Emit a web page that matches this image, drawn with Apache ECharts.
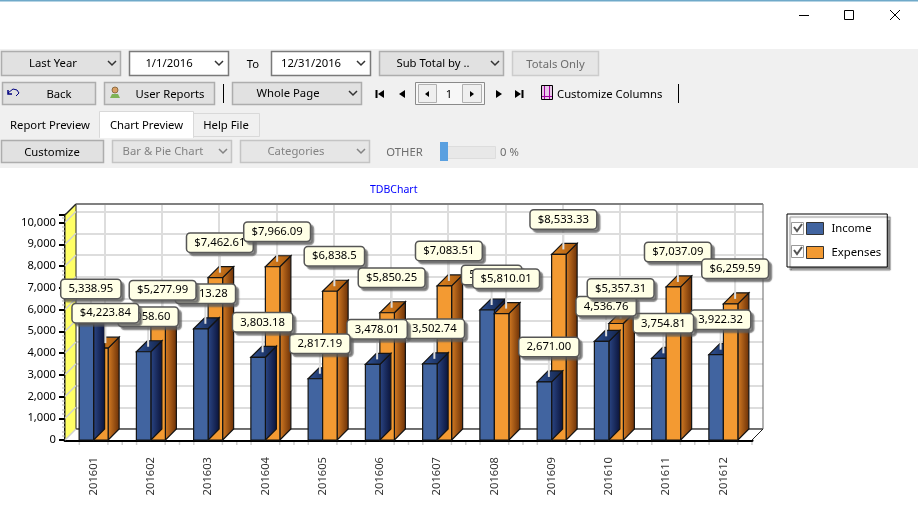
<!DOCTYPE html>
<html>
<head>
<meta charset="utf-8">
<style>html,body{margin:0;padding:0;background:#fff}#view{width:918px;height:512px}</style>
<script src="https://cdn.jsdelivr.net/npm/echarts@6/dist/echarts.min.js"></script>
</head>
<body>
<div id="view"></div>
<script>
var months = ["201601", "201602", "201603", "201604", "201605", "201606", "201607", "201608", "201609", "201610", "201611", "201612"];
var income = [5338.95, 4058.60, 5113.28, 3803.18, 2817.19, 3478.01, 3502.74, 5977.00, 2671.00, 4536.76, 3754.81, 3922.32];
var expenses = [4223.84, 5277.99, 7462.61, 7966.09, 6838.5, 5850.25, 7083.51, 5810.01, 8533.33, 5357.31, 7037.09, 6259.59];
var expensesInFront = ["201605", "201608", "201611", "201612"];
var yTicks = [0, 1000, 2000, 3000, 4000, 5000, 6000, 7000, 8000, 9000, 10000];
var yMax = 10345;

var FONT = '"Noto Sans", sans-serif';
var DEPTH = 11;

var blueFaces = {
  front: "#4164a0",
  side: ["#2c4888", "#0a1238"],
  top: ["#2f5296", "#122248"]
};
var orangeFaces = {
  front: "#f39a32",
  side: ["#d87e24", "#682e06"],
  top: ["#de8420", "#a85a10"]
};

function grad(stops, vertical) {
  return {
    type: "linear", x: 0, y: 0, x2: vertical ? 0 : 1, y2: vertical ? 1 : 0,
    colorStops: [{ offset: 0, color: stops[0] }, { offset: 1, color: stops[1] }]
  };
}

function money(v) {
  return "$" + v.toLocaleString("en-US", { maximumFractionDigits: 2 });
}
function plain(v) {
  return v.toLocaleString("en-US", { minimumFractionDigits: 2, maximumFractionDigits: 2 });
}

// a 3d bar with its callout, side by side around the category centre
function barRenderer(faces, isIncome, fmt) {
  return function (params, api) {
    var i = api.value(0), val = api.value(1);
    var base = api.coord([i, 0]), top = api.coord([i, val]);
    var w = api.size([1, 0])[0] * 0.2533;
    var x = isIncome ? base[0] - w : base[0];
    var d = DEPTH;
    var inFront = expensesInFront.indexOf(months[i]) >= 0;
    var z = (isIncome !== inFront) ? 3 * i + 20 : 3 * i + 10;
    var edge = { stroke: "#141414", lineWidth: 1.2 };
    var labelX = x + w / 2 + 4.5;
    var labelY = top[1] - 35;
    return {
      type: "group",
      children: [
        {
          type: "polygon", z2: z,
          shape: { points: [[x + w, top[1]], [x + w + d, top[1] - d], [x + w + d, base[1] - d], [x + w, base[1]]] },
          style: Object.assign({ fill: grad(faces.side) }, edge)
        },
        {
          type: "polygon", z2: z,
          shape: { points: [[x, top[1]], [x + d, top[1] - d], [x + w + d, top[1] - d], [x + w, top[1]]] },
          style: Object.assign({ fill: grad(faces.top) }, edge)
        },
        {
          type: "rect", z2: z,
          shape: { x: x, y: top[1], width: w, height: base[1] - top[1] },
          style: Object.assign({ fill: faces.front }, edge)
        },
        {
          type: "line", z2: 100,
          shape: { x1: labelX, y1: labelY, x2: labelX, y2: top[1] - 5 },
          style: { stroke: "#dddddd", lineWidth: 2 }
        },
        {
          type: "text", z2: (isIncome ? 200 : 400) + (isIncome ? -i : i),
          style: {
            text: fmt(val), x: labelX, y: labelY, align: "center", verticalAlign: "middle",
            font: "11.3px " + FONT, fill: "#000",
            backgroundColor: "#ffffe6", borderColor: "#555", borderWidth: 1.5, borderRadius: 3,
            padding: [4, 7, 3, 7],
            shadowColor: "rgba(90,90,90,0.65)", shadowOffsetX: 3, shadowOffsetY: 3, shadowBlur: 1
          }
        }
      ]
    };
  };
}

// yellow left wall, floor, and the frame of the back wall
function wallRenderer(params, api) {
  var band = api.size([1, 0])[0];
  var t = api.coord([0, api.value(1)]);
  var x0 = t[0] - band / 2;
  var d = DEPTH;
  var children = [{
    type: "line", z2: 3,
    shape: { x1: x0, y1: t[1], x2: x0 + d, y2: t[1] - d },
    style: { stroke: "#cfcfcf", lineWidth: 1.5 }
  }];
  if (params.dataIndex === 0) {
    var b = api.coord([0, 0]), h = api.coord([0, yMax]);
    var x1 = api.coord([months.length - 1, 0])[0] + band / 2;
    children.push({
      type: "polygon", z2: 1,
      shape: { points: [[x0, h[1]], [x0 + d, h[1] - d], [x0 + d, b[1] - d], [x0, b[1]]] },
      style: { fill: "#ffff66", stroke: "#222", lineWidth: 1 }
    }, {
      type: "polygon", z2: 1,
      shape: { points: [[x0, b[1]], [x0 + d, b[1] - d], [x1 + d, b[1] - d], [x1, b[1]]] },
      style: { fill: "#fff" }
    }, {
      type: "line", z2: 2,
      shape: { x1: x0 + d, y1: b[1] - d, x2: x1 + d, y2: b[1] - d },
      style: { stroke: "#444", lineWidth: 1.5 }
    }, {
      type: "line", z2: 2,
      shape: { x1: x1, y1: b[1], x2: x1 + d, y2: b[1] - d },
      style: { stroke: "#222", lineWidth: 1 }
    }, {
      type: "line", z2: 2,
      shape: { x1: x1 + d, y1: b[1] - d, x2: x1 + d, y2: h[1] - d },
      style: { stroke: "#666", lineWidth: 1 }
    }, {
      type: "line", z2: 2,
      shape: { x1: x0 + d, y1: h[1] - d, x2: x1 + d, y2: h[1] - d },
      style: { stroke: "#808080", lineWidth: 2 }
    }, {
      type: "line", z2: 2,
      shape: { x1: x0, y1: h[1], x2: x0 + d, y2: h[1] - d },
      style: { stroke: "#222", lineWidth: 1.5 }
    });
  }
  return { type: "group", children: children };
}

// the little grey ticks between the months on the bottom axis
function minorTickRenderer(params, api) {
  var c = api.coord([api.value(0), 0]);
  var step = api.size([1, 0])[0] / 4;
  var kids = [];
  [-1, 1, 2].forEach(function (k) {
    kids.push({
      type: "line",
      shape: { x1: c[0] + k * step, y1: c[1] + 2, x2: c[0] + k * step, y2: c[1] + 5 },
      style: { stroke: "#d0d0d0", lineWidth: 1.5 }
    });
  });
  return { type: "group", children: kids };
}

// window chrome and toolbar, drawn as graphic elements
var ui = [];
function box(x, y, w, h, fill, stroke, lw) {
  ui.push({
    type: "rect", shape: { x: x, y: y, width: w, height: h },
    style: { fill: fill, stroke: stroke || null, lineWidth: lw || 1 }, silent: true
  });
}
function label(text, x, y, color, align) {
  ui.push({
    type: "text", silent: true,
    style: { text: text, x: x, y: y + 1.2, fill: color || "#000", font: "11.3px " + FONT, align: align || "center", verticalAlign: "middle" }
  });
}
function stroke(points, color, lw) {
  ui.push({
    type: "polyline", silent: true, shape: { points: points },
    style: { stroke: color || "#000", lineWidth: lw || 1, fill: null }
  });
}
function fillShape(points, color) {
  ui.push({ type: "polygon", silent: true, shape: { points: points }, style: { fill: color } });
}
function chevron(x, y, color) {
  stroke([[x - 4, y - 2], [x, y + 2], [x + 4, y - 2]], color || "#333", 1.5);
}
function combo(x, y, w, h, text, tx, chev, fill, border, color) {
  box(x + 0.5, y + 0.5, w, h, fill, border, 1.5);
  label(text, tx, y + h / 2, color);
  chevron(chev, y + h / 2, color === "#838383" ? "#838383" : "#333");
}

box(0, 0, 918, 1.5, "#6fa9c9");
stroke([[799, 15.5], [809, 15.5]], "#000", 1);
box(844.5, 10.5, 9, 9, "#fff", "#000", 1);
stroke([[890, 10], [900, 20]], "#000", 1);
stroke([[900, 10], [890, 20]], "#000", 1);

box(0, 49, 918, 119, "#f0f0f0");

combo(1, 51, 119, 24, "Last Year", 53, 112, "#e1e1e1", "#adadad");
combo(129, 51, 99, 24, "1/1/2016", 169, 219, "#fff", "#7a7a7a");
label("To", 253, 63.5);
combo(271, 51, 99, 24, "12/31/2016", 311, 361, "#fff", "#7a7a7a");
combo(379, 51, 124, 24, "Sub Total by ..", 433, 495, "#e1e1e1", "#adadad");
box(512.5, 51.5, 86, 24, "#e6e6e6", "#cccccc", 1.5);
label("Totals Only", 555.5, 63.5, "#6d6d6d");

box(2.5, 82.5, 93, 22, "#e1e1e1", "#adadad", 1.5);
stroke([[8, 90], [8, 94], [12, 94]], "#000080", 1.5);
stroke([[8, 93], [13, 89], [17, 90], [19, 93], [16, 96]], "#000080", 1);
label("Back", 59, 94);
box(104.5, 82.5, 110, 22, "#e1e1e1", "#adadad", 1.5);
ui.push({ type: "circle", silent: true, shape: { cx: 115, cy: 90, r: 3 }, style: { fill: "#d9a066", stroke: "#7a5a30", lineWidth: 0.8 } });
fillShape([[110, 98], [112, 94], [118, 94], [120, 98]], "#7fb356");
label("User Reports", 170, 94);
stroke([[223.5, 84], [223.5, 103]], "#000", 1);
combo(232, 82, 129, 22, "Whole Page", 288, 353, "#e1e1e1", "#adadad");

stroke([[376.5, 90], [376.5, 98]], "#000", 2);
fillShape([[384, 90], [384, 98], [378, 94]], "#000");
fillShape([[405, 90], [405, 98], [399, 94]], "#000");
box(415.5, 82.5, 69, 22, "#f7f7f7", "#8a8a8a", 1);
box(418.5, 84.5, 18, 18, "#efefef", "#b0b0b0", 1);
fillShape([[429, 91], [429, 97], [425, 94]], "#000");
box(462.5, 84.5, 19, 18, "#efefef", "#b0b0b0", 1);
fillShape([[470, 91], [470, 97], [474, 94]], "#000");
label("1", 449, 94);
fillShape([[496, 90], [496, 98], [502, 94]], "#000");
fillShape([[515, 90], [515, 98], [521, 94]], "#000");
stroke([[522.5, 90], [522.5, 98]], "#000", 2);
box(541.5, 85.5, 11, 14, "#e8c8e8", "#000", 1);
stroke([[544.5, 86], [544.5, 99]], "#a000a0", 1);
stroke([[549.5, 86], [549.5, 99]], "#a000a0", 1);
stroke([[542, 96.5], [552, 96.5]], "#a000a0", 1);
label("Customize Columns", 557, 94, "#000", "left");
stroke([[678.5, 84], [678.5, 103]], "#000", 1);

label("Report Preview", 50, 125);
box(99.5, 111.5, 94, 26, "#fff", "#d9d9d9", 1);
box(100, 130, 93, 8, "#fff");
label("Chart Preview", 146.5, 125);
box(193.5, 113.5, 66, 23, "#f0f0f0", "#d9d9d9", 1);
label("Help File", 226, 125);

box(1.5, 140.5, 102, 22, "#e1e1e1", "#adadad", 1.5);
label("Customize", 52, 152);
combo(112, 140, 119, 22, "Bar & Pie Chart", 163, 223, "#e6e6e6", "#c4c4c4", "#838383");
combo(240, 140, 129, 22, "Categories", 296, 361, "#e6e6e6", "#c4c4c4", "#838383");
label("OTHER", 404.5, 152, "#6d6d6d");
box(440.5, 146.5, 55, 12, "#e8e8e8", "#dddddd", 1);
box(440, 142, 8, 19, "#5aa0e0");
label("0 %", 500, 152, "#6d6d6d", "left");

// legend check boxes
[222, 245].forEach(function (y) {
  box(791.5, y + 0.5, 12, 12, "#ffffff", "#9a9a9a", 1);
  stroke([[794, y + 5], [797, y + 9], [802, y + 2]], "#555", 2);
});
ui.forEach(function (e) { e.z = 20; });

var option = {
  animation: false,
  backgroundColor: "#fff",
  textStyle: { fontFamily: FONT },
  title: {
    text: "TDBChart", left: 365, top: 180,
    textStyle: { color: "#0000ff", fontSize: 10.5, fontWeight: "normal", fontFamily: FONT }
  },
  legend: {
    data: [
      { name: "Income", itemStyle: { color: blueFaces.front, borderColor: "#333", borderWidth: 1 } },
      { name: "Expenses", itemStyle: { color: orangeFaces.front, borderColor: "#333", borderWidth: 1 } }
    ],
    orient: "vertical", left: 787, top: 214, icon: "rect",
    itemWidth: 17, itemHeight: 12, itemGap: 11, selectedMode: false,
    padding: [8, 6, 8, 19],
    backgroundColor: "#fff", borderColor: "#000", borderWidth: 1,
    shadowColor: "rgba(90,90,90,0.7)", shadowOffsetX: 3, shadowOffsetY: 3, shadowBlur: 1,
    textStyle: { fontFamily: FONT, fontSize: 11.3, color: "#000", padding: [3, 0, 0, 3] }
  },
  grid: [
    { left: 65, width: 687, top: 215, height: 225 },
    { left: 76, width: 687, top: 204, height: 225 }
  ],
  xAxis: [{
    type: "category", data: months, gridIndex: 0,
    axisLine: { lineStyle: { color: "#000", width: 3 } },
    axisTick: { alignWithLabel: true, length: 5, lineStyle: { color: "#aaa", width: 1.5 } },
    axisLabel: { rotate: 90, interval: 0, margin: 17, fontSize: 11.2, color: "#333", fontFamily: FONT }
  }, {
    type: "category", data: months, gridIndex: 1,
    axisLine: { show: false }, axisTick: { show: false }, axisLabel: { show: false },
    splitLine: { show: true, interval: 0, alignWithLabel: true, lineStyle: { color: "#dddddd", width: 2 } }
  }],
  yAxis: [{
    type: "value", min: 0, max: yMax, interval: 1000, gridIndex: 0,
    axisLine: { show: true, lineStyle: { color: "#000", width: 3 } },
    axisTick: { show: true, length: 6, lineStyle: { color: "#000", width: 2 } },
    minorTick: { show: true, splitNumber: 5, length: 3, lineStyle: { color: "#c8c8c8", width: 1.5 } },
    splitLine: { show: false },
    axisLabel: {
      margin: 9, fontSize: 11.2, color: "#000", fontFamily: FONT, showMaxLabel: false,
      formatter: function (v) { return v.toLocaleString("en-US"); }
    }
  }, {
    type: "value", min: 0, max: yMax, interval: 1000, gridIndex: 1,
    axisLine: { show: false }, axisTick: { show: false }, axisLabel: { show: false },
    splitLine: { show: true, lineStyle: { color: "#dddddd", width: 2 } }
  }],
  series: [{
    type: "custom", name: "wall", z: 1, xAxisIndex: 0, yAxisIndex: 0,
    renderItem: wallRenderer,
    encode: { x: 0, y: 1 },
    data: yTicks.map(function (t) { return [0, t]; })
  }, {
    type: "custom", name: "minor ticks", z: 1, xAxisIndex: 0, yAxisIndex: 0,
    renderItem: minorTickRenderer,
    encode: { x: 0, y: 1 },
    data: months.map(function (m, i) { return [i, 0]; })
  }, {
    type: "custom", name: "Income", z: 5, xAxisIndex: 0, yAxisIndex: 0,
    renderItem: barRenderer(blueFaces, true, plain),
    encode: { x: 0, y: 1 },
    itemStyle: { color: blueFaces.front },
    data: income.map(function (v, i) { return [i, v]; })
  }, {
    type: "custom", name: "Expenses", z: 5, xAxisIndex: 0, yAxisIndex: 0,
    renderItem: barRenderer(orangeFaces, false, money),
    encode: { x: 0, y: 1 },
    itemStyle: { color: orangeFaces.front },
    data: expenses.map(function (v, i) { return [i, v]; })
  }],
  graphic: { elements: ui }
};

echarts.init(document.getElementById("view")).setOption(option);
</script>
</body>
</html>
